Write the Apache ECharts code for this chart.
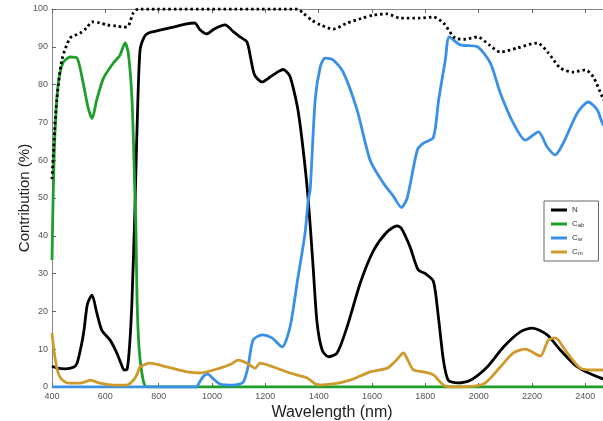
<!DOCTYPE html>
<html>
<head>
<meta charset="utf-8">
<script src="https://cdn.jsdelivr.net/npm/echarts@6/dist/echarts.min.js"></script>
<style>html,body{margin:0;padding:0;background:#fff;}#c{width:603px;height:421px;}</style>
</head>
<body>
<div id="c"></div>
<script>
var xTicks = {min: 400, max: 2500, interval: 200};
var yTicks = {min: 0, max: 100, interval: 10};
var legendNames = ['N', 'Cab', 'Cw', 'Cm'];

var nData = [[400,5.5],[420,5],[450,4.8],[480,5.2],[494,6.3],[510,11],[520,15],[533,22],[550,24.3],[568,19.6],[587,15],[618,12.4],[643,9],[660,6],[670,4.5],[682,4.8],[692,12],[700,23],[711,47],[715,58],[720,71],[730,89],[745,92.5],[760,93.6],[805,94.4],[854,95.2],[900,96],[935,96.3],[955,94.5],[980,93.4],[1010,94.8],[1049,95.8],[1080,94],[1105,92.6],[1131,91.3],[1145,87],[1160,82.5],[1188,80.7],[1218,82],[1250,83.5],[1267,84],[1290,82.5],[1305,79],[1323,73],[1342,62.7],[1361,49.5],[1379,32],[1394,17],[1413,9.8],[1436,8],[1469,9],[1507,16],[1556,27.5],[1605,36],[1656,41],[1694,42.6],[1710,42],[1743,37],[1773,31],[1800,30],[1830,28],[1849,18.5],[1868,7],[1886,1.8],[1920,1.1],[1969,1.8],[2032,5.3],[2093,10.6],[2156,14.6],[2201,15.6],[2257,13.8],[2306,9.8],[2370,5.3],[2456,2.4],[2500,1.8]];

var cabData = [[400,33.6],[404,49.5],[411,67],[423,80],[441,85.7],[468,87.3],[494,87],[518,80],[535,74],[550,71],[568,76],[593,81.7],[630,85.7],[655,87.8],[674,91],[686,88.4],[700,76],[711,51],[715,40.7],[719,23],[727,9.8],[742,1.8],[756,0],[2500,0]];

var cwData = [[400,0],[940,0],[955,1.5],[970,3],[985,3.4],[1000,2.5],[1030,0.8],[1079,0.5],[1117,1.3],[1135,5.3],[1154,12.4],[1188,13.8],[1225,13],[1263,10.6],[1293,16],[1319,27.5],[1349,40.7],[1361,49.5],[1368,52],[1387,76],[1406,84.7],[1424,87],[1455,86.5],[1492,83.3],[1544,73.3],[1593,60],[1642,54],[1680,50.5],[1710,47.5],[1732,50],[1770,62.7],[1793,64.5],[1830,66],[1850,76],[1875,86.5],[1890,92.6],[1931,90.5],[1995,90],[2044,85.7],[2081,77.8],[2130,69.8],[2175,65.3],[2224,67.5],[2257,63.5],[2287,61.4],[2317,64.5],[2370,72.5],[2411,75.4],[2445,73.3],[2464,69.8],[2500,66]];

var cmData = [[400,14.3],[405,11],[411,8],[420,4.5],[430,2.6],[450,1.3],[468,1],[505,1],[530,1.5],[543,1.8],[560,1.5],[580,1],[630,0.5],[680,0.5],[705,1.8],[720,3.5],[730,5.3],[768,6.3],[831,5.3],[906,4],[955,3.7],[1030,5],[1070,6],[1098,7.1],[1131,6.3],[1162,5],[1180,6.3],[1230,5.3],[1293,3.7],[1357,2.4],[1399,0.5],[1455,0.8],[1518,1.8],[1593,4],[1657,5],[1690,7],[1718,9],[1735,7],[1755,4.5],[1793,4],[1830,3.2],[1868,0.5],[1905,0],[2018,0.8],[2081,5.3],[2130,9],[2175,10],[2231,8.2],[2261,12.4],[2287,13],[2332,9],[2381,5],[2430,4.5],[2500,4.5]];

var totalData = [[400,55],[410,68],[418,76],[437,86.5],[468,92.3],[505,93.6],[530,95],[550,96.6],[580,96.3],[606,95.8],[640,95.5],[667,95.2],[686,95.5],[705,99],[724,100],[1320,100],[1342,98.9],[1375,97],[1406,95.8],[1455,94.7],[1507,96.3],[1560,97.5],[1605,98.4],[1657,98.7],[1706,97.6],[1780,97.6],[1830,97.9],[1868,96.3],[1912,92.3],[1950,92],[1995,92.6],[2040,90.5],[2081,88.6],[2145,89.7],[2220,91],[2260,88.5],[2306,84.4],[2355,83.3],[2400,83.9],[2430,82],[2464,76.7],[2500,72]];

var chart = echarts.init(document.getElementById('c'));
var font = 'Liberation Sans, Arial, sans-serif';
function mkLine(name, data, color, extra) {
  var s = {
    name: name, type: 'line', data: data, symbol: 'none', smooth: 0.25,
    lineStyle: {color: color, width: 2.8}, itemStyle: {color: color},
    animation: false
  };
  if (extra) { for (var k in extra) s[k] = extra[k]; }
  return s;
}
var axisCommon = {
  type: 'value', min: xTicks.min, max: xTicks.max, interval: xTicks.interval,
  axisLine: {show: true, lineStyle: {color: '#888', width: 1}},
  axisTick: {inside: true, length: 4, lineStyle: {color: '#666'}},
  splitLine: {show: false}
};
chart.setOption({
  backgroundColor: '#fff',
  textStyle: {fontFamily: font},
  grid: {left: 52, top: 9, width: 560, height: 378, containLabel: false, outerBoundsMode: 'none'},
  xAxis: [
    Object.assign({}, axisCommon, {
      position: 'bottom',
      axisLabel: {fontSize: 9, color: '#555', margin: 5, fontFamily: font, showMaxLabel: false,
        formatter: function (v) { return String(v); }},
      name: 'Wavelength (nm)', nameLocation: 'middle', nameGap: 18, nameMoveOverlap: false,
      nameTextStyle: {fontSize: 16, color: '#222', fontFamily: font}
    }),
    Object.assign({}, axisCommon, {
      position: 'top', axisLabel: {show: false}
    })
  ],
  yAxis: {
    type: 'value', min: yTicks.min, max: yTicks.max, interval: yTicks.interval,
    axisLine: {show: true, lineStyle: {color: '#888', width: 1}},
    axisTick: {inside: true, length: 4, lineStyle: {color: '#666'}},
    splitLine: {show: false},
    axisLabel: {fontSize: 9, color: '#555', margin: 4, fontFamily: font},
    name: 'Contribution (%)', nameLocation: 'middle', nameGap: 20, nameMoveOverlap: false,
    nameTextStyle: {fontSize: 15, color: '#222', fontFamily: font}
  },
  legend: {
    data: legendNames,
    orient: 'vertical',
    left: 544, top: 201,
    icon: 'rect',
    itemWidth: 16, itemHeight: 3, itemGap: 4,
    padding: [4, 14, 4, 7],
    backgroundColor: '#fff',
    borderColor: '#666', borderWidth: 1, borderRadius: 0,
    textStyle: {
      fontSize: 8, lineHeight: 10, color: '#333', fontFamily: font,
      rich: {
        b: {fontSize: 8, lineHeight: 10, color: '#333', fontFamily: font},
        s: {fontSize: 6, lineHeight: 10, color: '#333', fontFamily: font, padding: [3, 0, 0, 0]}
      }
    },
    formatter: function (name) {
      if (name === 'N') return 'N';
      return '{b|C}{s|' + name.slice(1) + '}';
    }
  },
  series: [
    mkLine('N', nData, '#000000'),
    mkLine('Cab', cabData, '#1e9e2a'),
    mkLine('Cw', cwData, '#3a8fe8'),
    mkLine('Cm', cmData, '#cf9a2c'),
    mkLine('Total', totalData, '#000000', {lineStyle: {color: '#000', width: 2.8, type: [2.5, 3]}})
  ]
});
</script>
</body>
</html>
